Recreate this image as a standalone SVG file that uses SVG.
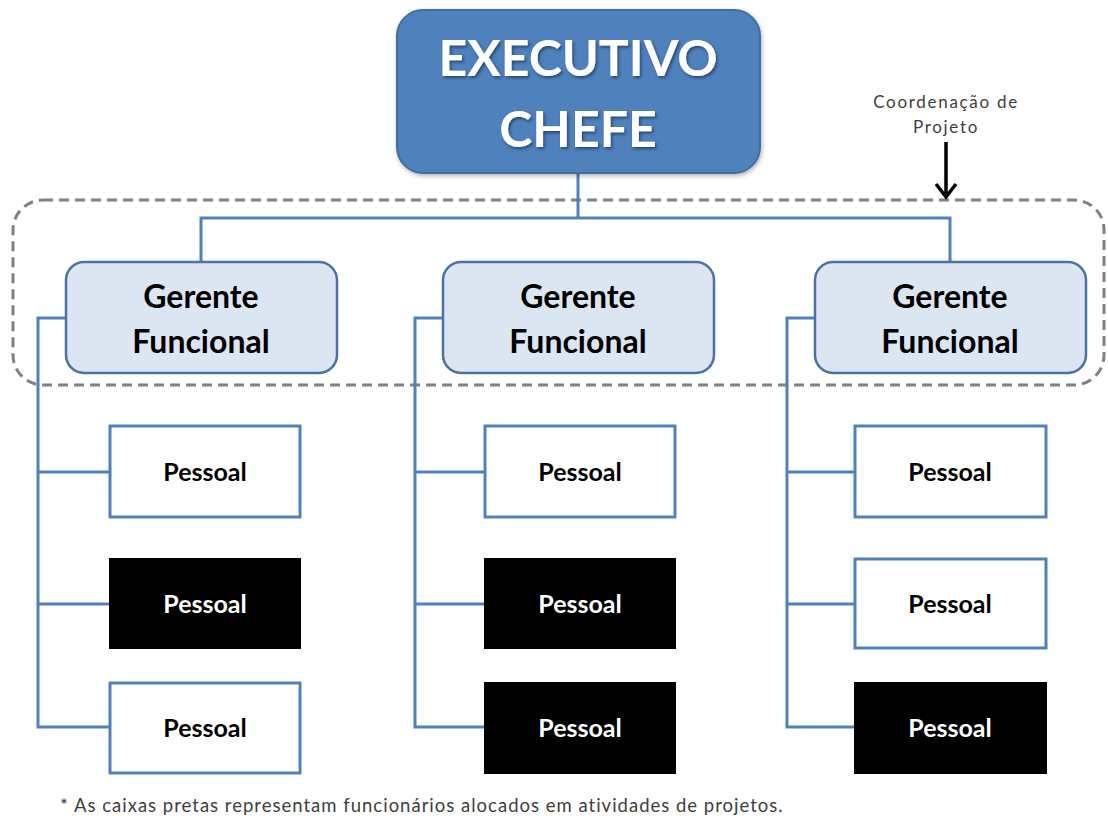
<svg xmlns="http://www.w3.org/2000/svg" width="1108" height="818" viewBox="0 0 1108 818">
<defs>
<style>
.conn{fill:none;stroke:#4F81BD;stroke-width:3}
.exec{fill:#4F81BD;stroke:#41719C;stroke-width:2}
.mgr{fill:#DCE6F2;stroke:#4A72A8;stroke-width:2.5}
.pw{fill:#FFFFFF;stroke:#4F81BD;stroke-width:3}
.pb{fill:#000000;stroke:#000000;stroke-width:2}
.t{font-family:Lato,"Open Sans","Liberation Sans",sans-serif;font-weight:bold;text-anchor:middle}
.et{font-size:50px;fill:#FFFFFF}
.mt{font-size:32px;fill:#000000}
.ptw{font-size:25px;fill:#000000}
.ptb{font-size:25px;fill:#FFFFFF}
.note{font-family:Lato,"Open Sans","Liberation Sans",sans-serif;fill:#404040}
</style>
<filter id="sh" x="-10%" y="-20%" width="130%" height="150%">
<feDropShadow dx="1.5" dy="2" stdDeviation="1.5" flood-color="#1f3a5f" flood-opacity="0.8"/>
</filter>
<filter id="bsh" x="-5%" y="-5%" width="115%" height="120%">
<feDropShadow dx="1" dy="2" stdDeviation="2" flood-color="#000" flood-opacity="0.3"/>
</filter>
</defs>
<rect width="1108" height="818" fill="#FFFFFF"/>

<g id="coordination">
<rect x="13" y="200" width="1091" height="185" rx="30" ry="30" fill="none" stroke="#808080" stroke-width="3" stroke-dasharray="10 6"/>
<text class="note" x="946" y="108" font-size="17" text-anchor="middle" letter-spacing="1.7">Coordenação de</text>
<text class="note" x="946" y="133" font-size="17" text-anchor="middle" letter-spacing="1.7">Projeto</text>
<path d="M946 142 V197 M936 184 L946 197 L956 184" fill="none" stroke="#000" stroke-width="3.5"/>
</g>

<g id="connectors">
<path class="conn" d="M578 173 V218 M201 262 V218 H950 V262"/>
<path class="conn" d="M66 318 H38 V727 H110 M38 472 H110 M38 604 H110"/>
<path class="conn" d="M443 318 H415 V727 H485 M415 472 H485 M415 604 H485"/>
<path class="conn" d="M815 318 H787 V727 H855 M787 472 H855 M787 604 H855"/>
</g>

<g id="exec">
<rect class="exec" x="397" y="10" width="363" height="163" rx="26" ry="26" filter="url(#bsh)"/>
<text class="t et" x="578" y="76" filter="url(#sh)">EXECUTIVO</text>
<text class="t et" x="578" y="147" filter="url(#sh)">CHEFE</text>
</g>

<g id="mgr1">
<rect class="mgr" x="66" y="262" width="271" height="111" rx="18" ry="18"/>
<text class="t mt" x="201" y="308">Gerente</text>
<text class="t mt" x="201" y="353">Funcional</text>
</g>
<g id="mgr2">
<rect class="mgr" x="443" y="262" width="271" height="111" rx="18" ry="18"/>
<text class="t mt" x="578" y="308">Gerente</text>
<text class="t mt" x="578" y="353">Funcional</text>
</g>
<g id="mgr3">
<rect class="mgr" x="815" y="262" width="271" height="111" rx="18" ry="18"/>
<text class="t mt" x="950" y="308">Gerente</text>
<text class="t mt" x="950" y="353">Funcional</text>
</g>

<g id="p11"><rect class="pw" x="110" y="426" width="190" height="91"/><text class="t ptw" x="205" y="481">Pessoal</text></g>
<g id="p12"><rect class="pb" x="110" y="559" width="190" height="89"/><text class="t ptb" x="205" y="613">Pessoal</text></g>
<g id="p13"><rect class="pw" x="110" y="683" width="190" height="90"/><text class="t ptw" x="205" y="737">Pessoal</text></g>

<g id="p21"><rect class="pw" x="485" y="426" width="190" height="91"/><text class="t ptw" x="580" y="481">Pessoal</text></g>
<g id="p22"><rect class="pb" x="485" y="559" width="190" height="89"/><text class="t ptb" x="580" y="613">Pessoal</text></g>
<g id="p23"><rect class="pb" x="485" y="683" width="190" height="90"/><text class="t ptb" x="580" y="737">Pessoal</text></g>

<g id="p31"><rect class="pw" x="855" y="426" width="191" height="91"/><text class="t ptw" x="950" y="481">Pessoal</text></g>
<g id="p32"><rect class="pw" x="855" y="559" width="191" height="89"/><text class="t ptw" x="950" y="613">Pessoal</text></g>
<g id="p33"><rect class="pb" x="855" y="683" width="191" height="90"/><text class="t ptb" x="950" y="737">Pessoal</text></g>

<g id="footnote">
<text class="note" x="60" y="812" font-size="18.5" letter-spacing="1" fill="#202020">* As caixas pretas representam funcionários alocados em atividades de projetos.</text>
</g>
</svg>
